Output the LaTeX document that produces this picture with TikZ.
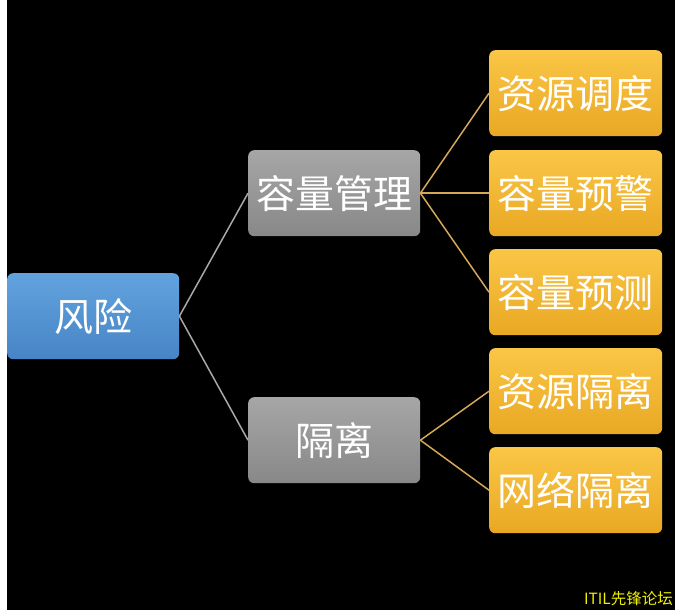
\documentclass[tikz,border=0pt]{standalone}
\usepackage{fontspec}
\newfontfamily\cjk{Noto Sans CJK SC}
\definecolor{bluetop}{HTML}{62A3DE}
\definecolor{bluebot}{HTML}{4784C6}
\definecolor{graytop}{HTML}{A6A6A6}
\definecolor{graybot}{HTML}{888888}
\definecolor{yeltop}{HTML}{FAC646}
\definecolor{yelbot}{HTML}{E9A823}
\definecolor{lgray}{HTML}{A8A8A8}
\definecolor{lgold}{HTML}{D4A857}
\definecolor{wm}{HTML}{F2F200}
\begin{document}
\begin{tikzpicture}[x=1pt,y=-1pt,
  box/.style={rounded corners=6pt, minimum width=172pt, minimum height=86pt, inner sep=0pt,
    text=white, font=\cjk\fontsize{39}{42}\selectfont, anchor=north west},
  bluebox/.style={box, top color=bluetop, bottom color=bluebot},
  graybox/.style={box, top color=graytop, bottom color=graybot},
  yelbox/.style={box, minimum width=173pt, top color=yeltop, bottom color=yelbot},
  glink/.style={draw=lgray, line width=1.5pt},
  ylink/.style={draw=lgold, line width=1.5pt}]
\fill[white] (0,0) rectangle (675,610);
\fill[black] (7,0) rectangle (675,610);
\node[bluebox] (risk) at (7,273) {风险};
\node[graybox] (cap) at (248,150) {容量管理};
\node[graybox] (iso) at (248,397) {隔离};
\node[yelbox] (y1) at (489,50) {资源调度};
\node[yelbox] (y2) at (489,150) {容量预警};
\node[yelbox] (y3) at (489,249) {容量预测};
\node[yelbox] (y4) at (489,348) {资源隔离};
\node[yelbox] (y5) at (489,447) {网络隔离};
\draw[glink] (risk.east) -- (cap.west);
\draw[glink] (risk.east) -- (iso.west);
\foreach \t in {y1,y2,y3} \draw[ylink] (cap.east) -- (\t.west);
\foreach \t in {y4,y5} \draw[ylink] (iso.east) -- (\t.west);
\node[anchor=south east, inner sep=0pt, text=wm, font=\cjk\fontsize{15.5}{17}\selectfont] (wmk) at (673,606) {ITIL先锋论坛};
\end{tikzpicture}
\end{document}
